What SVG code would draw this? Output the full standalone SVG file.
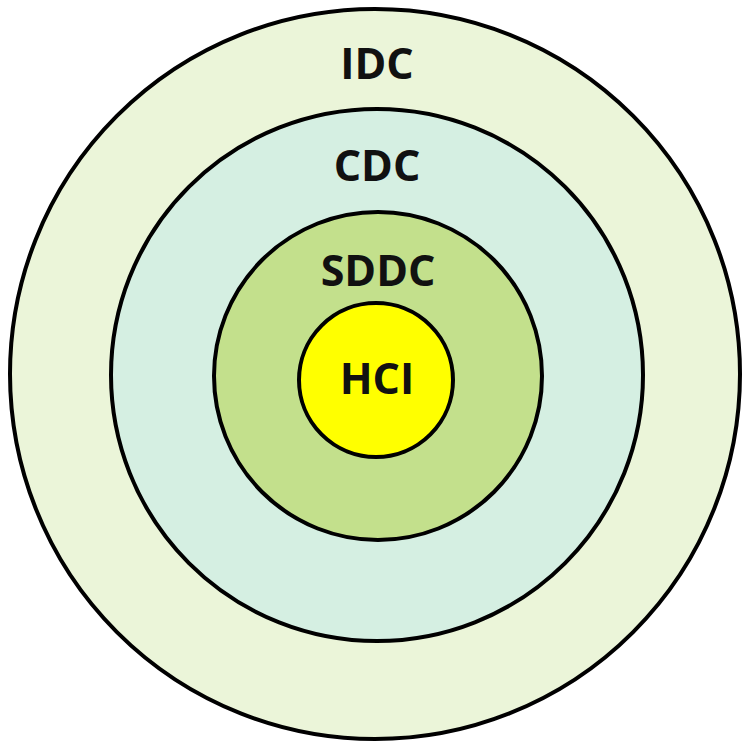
<svg xmlns="http://www.w3.org/2000/svg" width="743" height="742" viewBox="0 0 743 742">
<style>
.ring{stroke:#000;stroke-width:4}
.lbl{font-family:"Open Sans","Noto Sans","DejaVu Sans",sans-serif;font-weight:bold;font-size:43px;fill:#111;text-anchor:middle}
</style>
<rect width="743" height="742" fill="#fff"/>
<g id="IDC">
<circle class="ring" cx="375" cy="374" r="365" fill="#EBF5D9"/>
<text class="lbl" x="377" y="79">IDC</text>
</g>
<g id="CDC">
<circle class="ring" cx="377" cy="375" r="266" fill="#D5EFE2"/>
<text class="lbl" x="377" y="181">CDC</text>
</g>
<g id="SDDC">
<circle class="ring" cx="378" cy="376" r="164" fill="#C3E08C"/>
<text class="lbl" x="378" y="286">SDDC</text>
</g>
<g id="HCI">
<circle class="ring" cx="376" cy="380" r="77" fill="#FFFF00"/>
<text class="lbl" x="377" y="394">HCI</text>
</g>
<g id="connectors"/>
</svg>
